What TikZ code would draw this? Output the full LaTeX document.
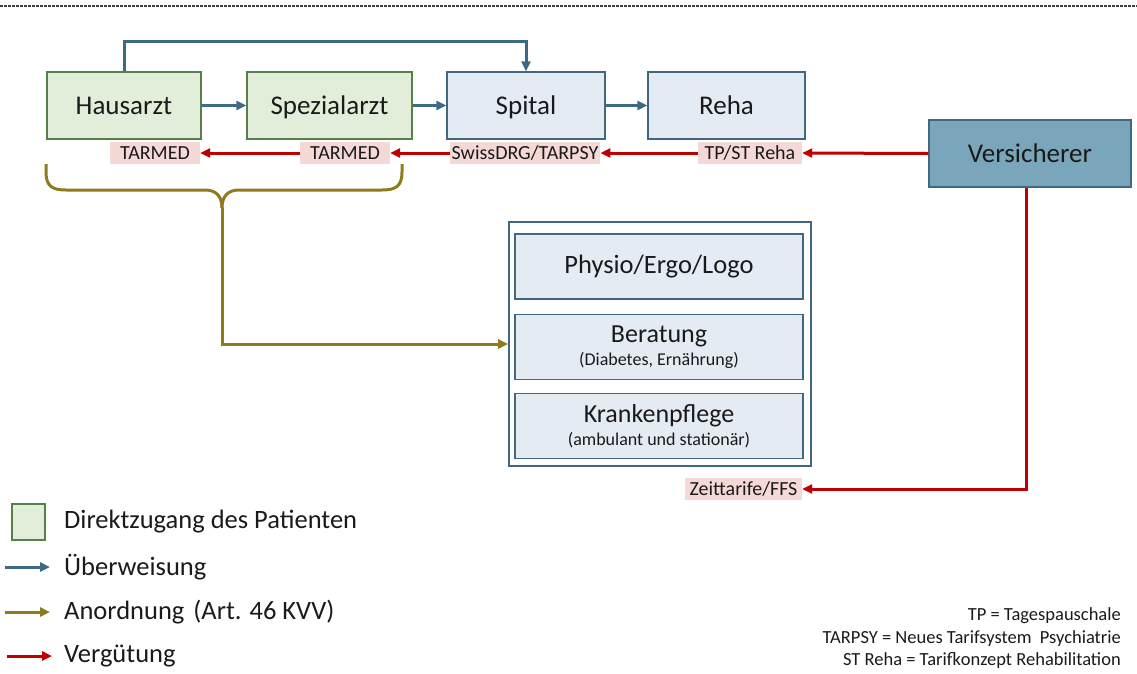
\documentclass[tikz,border=0pt]{standalone}
\usepackage{fontspec}
\setmainfont{Carlito}
\usetikzlibrary{arrows.meta}
\definecolor{gfill}{HTML}{E2EED9}
\definecolor{gdraw}{HTML}{55804A}
\definecolor{bfill}{HTML}{E5EBF3}
\definecolor{bdraw}{HTML}{41687F}
\definecolor{barrow}{HTML}{3D6985}
\definecolor{vfill}{HTML}{7AA6BC}
\definecolor{redone}{HTML}{C00000}
\definecolor{pinkone}{HTML}{F4D9D6}
\definecolor{oliveone}{HTML}{8E7B1E}
\definecolor{txt}{HTML}{1A1A1A}
\begin{document}
\begin{tikzpicture}[x=1pt,y=-1pt,
  every node/.style={text=txt},
  topbox/.style={draw, line width=1.4pt, minimum width=154pt, minimum height=67pt, inner sep=0pt, text height=19.5pt, text depth=2pt, font=\fontsize{27}{32}\selectfont},
  gbox/.style={topbox, fill=gfill, draw=gdraw},
  bbox/.style={topbox, fill=bfill, draw=bdraw},
  ibox/.style={draw=bdraw, fill=bfill, line width=1.4pt, minimum width=288pt, minimum height=65pt, inner sep=0pt, align=center},
  lab/.style={fill=pinkone, inner xsep=2pt, inner ysep=0pt, minimum height=22pt, text height=15pt, text depth=2.4pt, font=\fontsize{20}{22}\selectfont},
  tip/.style={-{Triangle[length=10pt,width=9pt]}},
  barr/.style={tip, draw=barrow, line width=3pt},
  rarr/.style={tip, draw=redone, line width=3pt},
  oarr/.style={tip, draw=oliveone, line width=3pt},
  oline/.style={draw=oliveone, line width=3pt},
  legtext/.style={anchor=west, inner sep=0pt, font=\fontsize{26.5}{30}\selectfont}
]
\useasboundingbox (0,0) rectangle (1137,673);

% top dashed border
\coordinate (tl) at (0,6);
\coordinate (tr) at (1137,6);
\draw[dash pattern=on 3pt off 1pt, line width=1.5pt, black!75] (tl) -- (tr);

% top row
\node[gbox] (haus) at (124,105.5) {Hausarzt};
\node[gbox, minimum width=165pt] (spez) at (329.5,105.5) {Spezialarzt};
\node[bbox, minimum width=158pt] (spital) at (526,105.5) {Spital};
\node[bbox, minimum width=157pt] (reha) at (726.5,105.5) {Reha};
\node[topbox, draw=bdraw, fill=vfill, minimum width=202pt] (vers) at (1030,153.5) {Versicherer};

\draw[barr] (haus) -- (spez);
\draw[barr] (spez) -- (spital);
\draw[barr] (spital) -- (reha);
\coordinate (topline) at (300,41);
\draw[barr] (haus.north) |- (topline) -| (spital.north);

% tariff labels
\node[lab, minimum width=90pt] (ltar1) at (155,153) {TARMED};
\node[lab, minimum width=90pt] (ltar2) at (345,153) {TARMED};
\node[lab, minimum width=150pt] (lspital) at (525,153) {SwissDRG/TARPSY};
\node[lab, minimum width=104pt] (lreha) at (750,153) {TP/ST Reha};
\node[lab, minimum width=117pt] (lzeit) at (743.5,489) {Zeittarife/FFS};

\draw[rarr] (vers.west) -- (lreha.east);
\draw[rarr] (lreha.west) -- (lspital.east);
\draw[rarr] (lspital.west) -- (ltar2.east);
\draw[rarr] (ltar2.west) -- (ltar1.east);
\draw[rarr] ([xshift=-4pt]vers.south) |- (lzeit.east);

% container
\node[draw=bdraw, fill=white, line width=1.6pt, minimum width=302pt, minimum height=244pt, inner sep=0pt] (cont) at (660,344) {};
\node[ibox] (physio) at (659,266.5) {\fontsize{26.5}{30}\selectfont Physio/Ergo/Logo};
\node[ibox] (berat) at (659,347) {\fontsize{26}{27}\selectfont Beratung\\[4pt]\fontsize{18}{22}\selectfont (Diabetes, Ernährung)};
\node[ibox] (kranken) at (659,426) {\fontsize{26}{27}\selectfont Krankenpflege\\[4pt]\fontsize{18}{22}\selectfont (ambulant und stationär)};

% brace
\coordinate (bl) at (46,164);
\coordinate (br) at (402,164);
\coordinate (btip) at (222,208);
\draw[oline, line join=round] (bl) -- (46,172) .. controls (46,186) and (52,190) .. (66,190) -- (205,190) .. controls (216,190) and (222,196) .. (btip);
\draw[oline, line join=round] (br) -- (402,172) .. controls (402,186) and (396,190) .. (382,190) -- (239,190) .. controls (228,190) and (222,196) .. (btip);
\draw[oarr] (btip) |- (cont.west);

% legend
\node[gbox, minimum width=33pt, minimum height=36pt] (lsq) at (28.5,522) {};
\node[legtext] (t1) at (64,522) {Direktzugang des Patienten};
\coordinate (a1) at (5,567); \coordinate (b1) at (50,567);
\draw[barr] (a1) -- (b1);
\node[legtext] (t2) at (64,567) {Überweisung};
\coordinate (a2) at (5,612); \coordinate (b2) at (50,612);
\draw[oarr] (a2) -- (b2);
\node[legtext] (t3) at (64,612) {Anordnung\hspace{9pt}(Art. 46 KVV)};
\coordinate (a3) at (7,656); \coordinate (b3) at (52,656);
\draw[rarr] (a3) -- (b3);
\node[legtext] (t4) at (64,656) {Vergütung};

% notes
\node[anchor=east, align=right, inner sep=0pt, font=\fontsize{18.5}{22.5}\selectfont] (notes) at (1121,638.5) {TP = Tagespauschale\\TARPSY = Neues Tarifsystem\ \ Psychiatrie\\ST Reha = Tarifkonzept Rehabilitation};
\end{tikzpicture}
\end{document}
